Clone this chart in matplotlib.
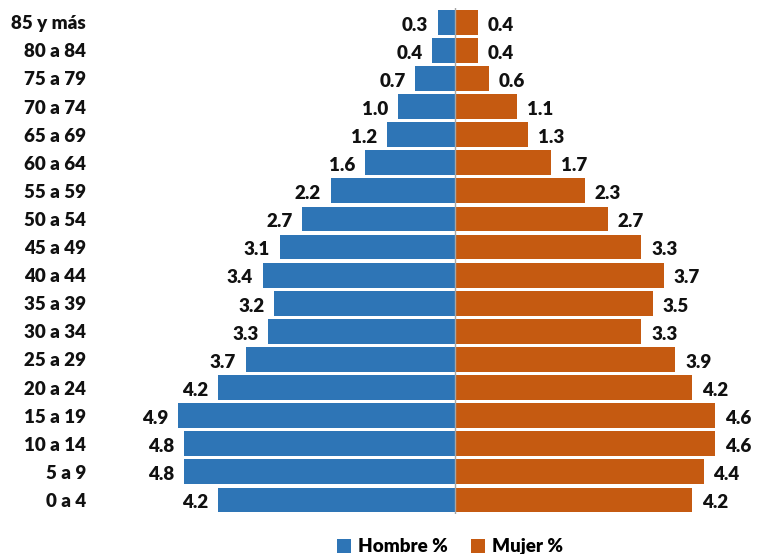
import numpy as np
import matplotlib.pyplot as plt

plt.rcParams['font.family'] = ['Lato', 'DejaVu Sans']
plt.rcParams['font.weight'] = 'heavy'

grupos = ['0 a 4', '5 a 9', '10 a 14', '15 a 19', '20 a 24', '25 a 29',
          '30 a 34', '35 a 39', '40 a 44', '45 a 49', '50 a 54', '55 a 59',
          '60 a 64', '65 a 69', '70 a 74', '75 a 79', '80 a 84', '85 y más']
hombre = [4.2, 4.8, 4.8, 4.9, 4.2, 3.7, 3.3, 3.2, 3.4, 3.1, 2.7, 2.2,
          1.6, 1.2, 1.0, 0.7, 0.4, 0.3]
mujer = [4.2, 4.4, 4.6, 4.6, 4.2, 3.9, 3.3, 3.5, 3.7, 3.3, 2.7, 2.3,
         1.7, 1.3, 1.1, 0.6, 0.4, 0.4]

azul = '#2E75B6'
naranja = '#C55A11'

fig = plt.figure(figsize=(7.59, 5.54), dpi=100)
ax = fig.add_axes([0.1318, 0.0722, 0.8682, 0.913])

y = np.arange(len(grupos))
bh = ax.barh(y, [-v for v in hombre], height=0.88, color=azul, label='Hombre %')
bm = ax.barh(y, mujer, height=0.88, color=naranja, label='Mujer %')

for yi, v in zip(y, hombre):
    ax.annotate(f'{v:.1f}', (-v, yi), xytext=(-7, -2), textcoords='offset points',
                ha='right', va='center', fontsize=13.5, fontweight='heavy', color='#111111')
for yi, v in zip(y, mujer):
    ax.annotate(f'{v:.1f}', (v, yi), xytext=(7, -2), textcoords='offset points',
                ha='left', va='center', fontsize=13.5, fontweight='heavy', color='#111111')

ax.axvline(0, color='#a6a6a6', lw=1, zorder=3)

ax.set_xlim(-6.28, 5.38)
ax.set_ylim(-0.5, len(grupos) - 0.5)
ax.set_yticks(y)
ax.set_yticklabels(grupos, fontsize=13.5, fontweight='heavy', color='#111111')
ax.tick_params(axis='y', length=0, pad=10)
ax.set_xticks([])
for s in ax.spines.values():
    s.set_visible(False)

fig.legend(handles=[bh, bm], loc='center', bbox_to_anchor=(0.593, 0.013),
           ncol=2, frameon=False, handlelength=0.75,
           handleheight=0.75, handletextpad=0.4, columnspacing=1.2,
           prop={'weight': 'heavy', 'size': 13.5})

fig.savefig('out.png', dpi=100)
